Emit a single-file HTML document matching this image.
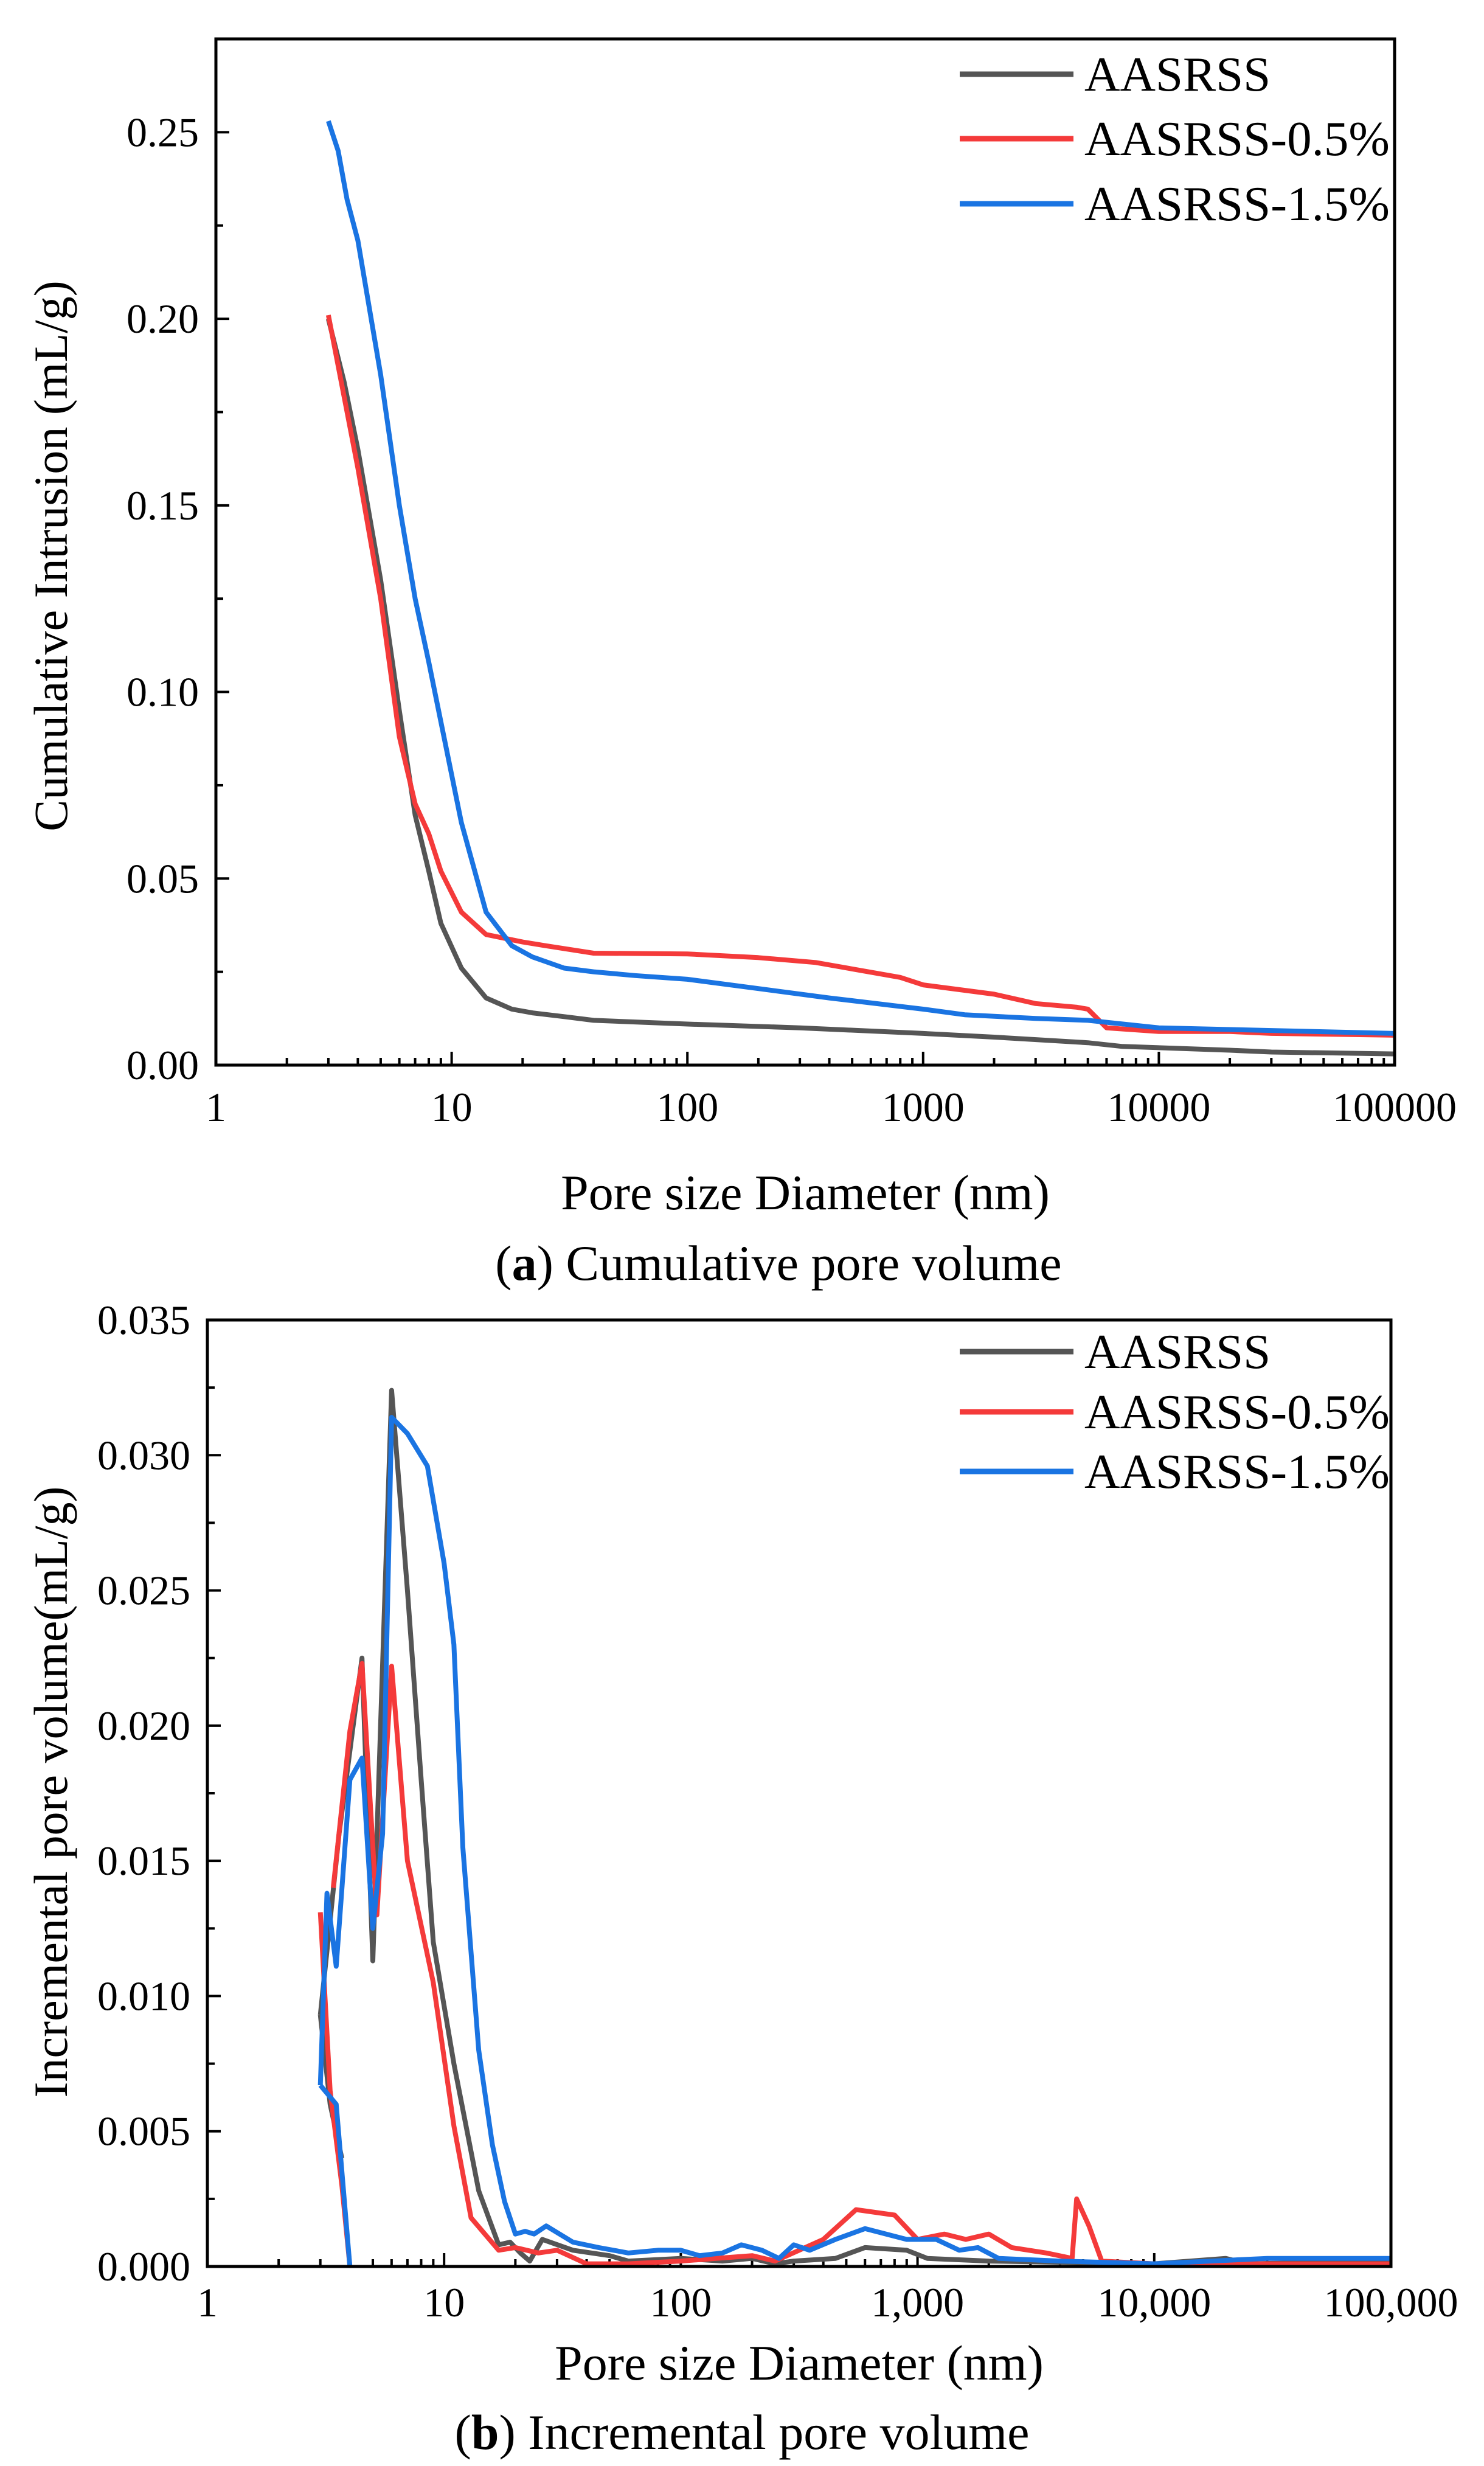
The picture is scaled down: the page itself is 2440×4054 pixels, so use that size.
<!DOCTYPE html>
<html><head><meta charset="utf-8"><style>
html,body{margin:0;padding:0;background:#fff;}
svg{display:block;}
text{font-family:"Liberation Serif",serif;fill:#000;}
</style></head><body>
<svg id="s" width="2440" height="4054" viewBox="0 0 2440 4054" xmlns="http://www.w3.org/2000/svg">
<rect width="2440" height="4054" fill="#fff"/>
<g id="ga"></g><g id="gb"></g>
<text x="1324" y="1988" font-size="82" text-anchor="middle">Pore size Diameter (nm)</text>
<text x="1280" y="2104" font-size="82" text-anchor="middle">(<tspan font-weight="bold">a</tspan>) Cumulative pore volume</text>
<text transform="translate(110,914) rotate(-90)" font-size="78" text-anchor="middle">Cumulative Intrusion (mL/g)</text>
<text x="1314" y="3912" font-size="82" text-anchor="middle">Pore size Diameter (nm)</text>
<text x="1220" y="4026" font-size="82" text-anchor="middle">(<tspan font-weight="bold">b</tspan>) Incremental pore volume</text>
<text transform="translate(110,2946) rotate(-90)" font-size="78" text-anchor="middle">Incremental pore volume(mL/g)</text>
</svg>
<script>
var NS="http://www.w3.org/2000/svg";
function el(g,t,a,txt){var e=document.createElementNS(NS,t);for(var k in a)e.setAttribute(k,a[k]);if(txt!==undefined)e.textContent=txt;g.appendChild(e);return e;}
var C={g:"#555555",r:"#f43a3a",b:"#1a74e2"};
function chart(gid,L,R,T,B,ymax,ystep,ydec,xlabs,xly,series,leg){
 var g=document.getElementById(gid);
 var dec=(R-L)/5;
 function X(d){return L+Math.log10(d)*dec;}
 function Y(v){return B-(v/ymax)*(B-T);}
 var n=Math.round(ymax/ystep);
 for(var i=0;i<=n;i++){var y=Y(i*ystep);
  el(g,"line",{x1:L,x2:L+22,y1:y,y2:y,stroke:"#000","stroke-width":4});
  el(g,"text",{x:L-28,y:y+23,"font-size":68,"text-anchor":"end"},(i*ystep).toFixed(ydec));
  if(i<n){var ym=Y((i+0.5)*ystep);el(g,"line",{x1:L,x2:L+12,y1:ym,y2:ym,stroke:"#000","stroke-width":4});}
 }
 for(var k=0;k<=5;k++){var x=X(Math.pow(10,k));
  el(g,"line",{x1:x,x2:x,y1:B,y2:B-22,stroke:"#000","stroke-width":4});
  el(g,"text",{x:x,y:B+xly,"font-size":68,"text-anchor":"middle"},xlabs[k]);
  if(k<5)for(var m=2;m<=9;m++){var xm=X(m*Math.pow(10,k));el(g,"line",{x1:xm,x2:xm,y1:B,y2:B-12,stroke:"#000","stroke-width":4});}
 }
 series.forEach(function(s){
  s.segs.forEach(function(pts){
   var d=pts.map(function(p,i){return (i?"L":"M")+X(p[0]).toFixed(1)+","+Y(p[1]).toFixed(1);}).join("");
   el(g,"path",{d:d,fill:"none",stroke:C[s.c],"stroke-width":8,"stroke-linejoin":"round"});
  });
 });
 el(g,"rect",{x:L,y:T,width:R-L,height:B-T,fill:"none",stroke:"#000","stroke-width":5});
 leg.ys.forEach(function(y,i){
  el(g,"line",{x1:1578,x2:1765,y1:y,y2:y,stroke:C[["g","r","b"][i]],"stroke-width":9});
  el(g,"text",{x:1783,y:y+27,"font-size":81},["AASRSS","AASRSS-0.5%","AASRSS-1.5%"][i]);
 });
}
var A_g=[[3,0.200],[3.5,0.183],[4,0.165],[5,0.130],[6,0.095],[7,0.067],[8,0.052],[9,0.038],[11,0.026],[14,0.018],[18,0.015],[22,0.014],[30,0.013],[40,0.012],[100,0.011],[300,0.010],[1000,0.0085],[2000,0.0075],[5000,0.006],[7000,0.005],[20000,0.004],[30000,0.0035],[100000,0.003]];
var A_r=[[3,0.201],[4,0.160],[5,0.125],[6,0.088],[7,0.070],[8,0.062],[9,0.052],[11,0.041],[14,0.035],[20,0.033],[25,0.032],[40,0.030],[100,0.0298],[200,0.0288],[350,0.0275],[800,0.0235],[1000,0.0215],[2000,0.019],[3000,0.0165],[4500,0.0155],[5000,0.0150],[6000,0.0100],[10000,0.009],[20000,0.009],[30000,0.0085],[100000,0.008]];
var A_b=[[3,0.253],[3.3,0.245],[3.6,0.232],[4,0.221],[5,0.185],[6,0.150],[7,0.125],[8,0.108],[9,0.092],[11,0.065],[14,0.041],[18,0.032],[22,0.029],[30,0.026],[40,0.025],[60,0.024],[100,0.023],[200,0.0205],[400,0.018],[1000,0.015],[1500,0.0135],[3000,0.0125],[5000,0.012],[10000,0.010],[100000,0.0085]];
chart("ga",355,2293,64,1751,0.275,0.05,2,["1","10","100","1000","10000","100000"],92,
 [{c:"g",segs:[A_g]},{c:"r",segs:[A_r]},{c:"b",segs:[A_b]}],{ys:[122,228,335]});
var B_g=[[3,0.0093],[3.3,0.0060],[3.7,0.004]];
var B_g2=[[3,0.0093],[3.6,0.016],[4.5,0.0225],[5,0.0113],[6,0.0324],[7,0.025],[8,0.018],[9,0.012],[11,0.0075],[14,0.0028],[17,0.0008],[19,0.0009],[21,0.0005],[23,0.0002],[26,0.0010],[35,0.0006],[50,0.0004],[60,0.0002],[100,0.0003],[150,0.0002],[200,0.0003],[250,0.0001],[300,0.0002],[450,0.0003],[600,0.0007],[900,0.0006],[1100,0.0003],[2000,0.0002],[10000,0.0001],[20000,0.0003],[25000,0.0001],[100000,0.0002]];
var B_r1=[[3,0.0131],[3.3,0.0065],[3.7,0.003],[4,0]];
var B_r2=[[3.4,0.0140],[4,0.0198],[4.5,0.0223],[5.2,0.0130],[6,0.0222],[7,0.0150],[9,0.0105],[11,0.0052],[13,0.0018],[17,0.0006],[20,0.0007],[25,0.0005],[30,0.0006],[40,0.0001],[60,0.0001],[100,0.0002],[200,0.0004],[250,0.0002],[400,0.0010],[550,0.0021],[800,0.0019],[1000,0.0010],[1300,0.0012],[1600,0.0010],[2000,0.0012],[2500,0.0007],[3500,0.0005],[4500,0.0003],[4700,0.0025],[5300,0.0015],[6000,0.0002],[10000,0.0001],[100000,0.0001]];
var B_b1=[[3,0.0067],[3.5,0.006],[4,0]];
var B_b2=[[3,0.0067],[3.2,0.0138],[3.5,0.0111],[4,0.0180],[4.5,0.0188],[5,0.0125],[5.5,0.0160],[6,0.0314],[7,0.0308],[8.5,0.0296],[10,0.026],[11,0.023],[12,0.0155],[14,0.008],[16,0.0045],[18,0.0024],[20,0.0012],[22,0.0013],[24,0.0012],[27,0.0015],[35,0.0009],[45,0.0007],[60,0.0005],[80,0.0006],[100,0.0006],[120,0.0004],[150,0.0005],[180,0.0008],[220,0.0006],[260,0.0003],[300,0.0008],[350,0.0006],[450,0.0010],[600,0.0014],[900,0.0010],[1200,0.0010],[1500,0.0006],[1800,0.0007],[2200,0.0003],[4000,0.0002],[10000,0.0001],[30000,0.0003],[100000,0.0003]];
chart("gb",341,2287,2170,3726,0.035,0.005,3,["1","10","100","1,000","10,000","100,000"],82,
 [{c:"g",segs:[B_g,B_g2]},{c:"r",segs:[B_r1,B_r2]},{c:"b",segs:[B_b1,B_b2]}],{ys:[2222,2321,2419]});
</script>
</body></html>
